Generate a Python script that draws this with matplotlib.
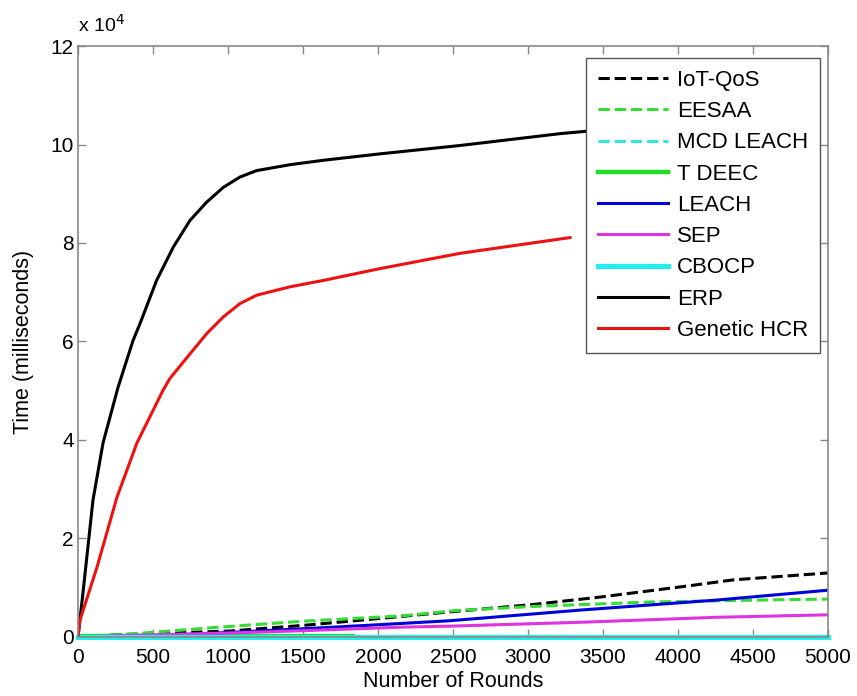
import numpy as np
import matplotlib
matplotlib.use("Agg")
import matplotlib.pyplot as plt
from matplotlib.ticker import FuncFormatter

plt.rcParams['font.family'] = ['Liberation Sans', 'DejaVu Sans']

# データ (Time in milliseconds)
x_erp = [0, 33, 100, 167, 267, 367, 413, 524, 636, 747, 858, 969, 1080, 1191,
         1413, 1636, 2013, 2547, 3213, 3500]
y_erp = [0, 8900, 27800, 39400, 50700, 60200, 63600, 72400, 79200, 84600, 88300,
         91300, 93400, 94700, 95900, 96800, 98100, 99800, 102200, 103000]

x_hcr = [0, 13, 127, 260, 393, 567, 613, 747, 858, 969, 1080, 1191, 1413, 1636,
         2013, 2547, 3280]
y_hcr = [0, 3400, 14200, 28400, 39400, 50100, 52500, 57500, 61600, 65000, 67700,
         69400, 71100, 72400, 74800, 77900, 81100]

x_iot = [0, 305, 1010, 1520, 2025, 2480, 3035, 3480, 4050, 4370, 5000]
y_iot = [0, 500, 1200, 2400, 3800, 5100, 6600, 8100, 10300, 11600, 13000]

x_eesaa = [0, 305, 945, 1500, 2165, 2530, 3035, 3810, 4550, 5000]
y_eesaa = [0, 500, 2000, 3200, 4300, 5400, 6200, 7100, 7500, 7700]

x_leach = [0, 505, 1060, 1520, 1950, 2480, 3365, 4260, 5000]
y_leach = [0, 200, 1000, 1700, 2400, 3300, 5500, 7500, 9500]

x_sep = [0, 305, 1010, 1520, 2165, 2480, 3365, 4260, 5000]
y_sep = [0, 300, 800, 1300, 2000, 2200, 3000, 4000, 4500]

x_tdeec = [0, 1830]
y_tdeec = [300, 300]

x_mcd = [0, 5000]
y_mcd = [100, 100]

x_cbocp = [0, 5000]
y_cbocp = [0, 0]

fig = plt.figure(figsize=(8.57, 6.96), dpi=100)
ax = fig.add_axes([0.0910, 0.0848, 0.8752, 0.8491])

lw = 2.2
ax.plot(x_iot, y_iot, '--', color='black', lw=lw, label='IoT-QoS')
ax.plot(x_eesaa, y_eesaa, '--', color='#33dd33', lw=lw, label='EESAA')
ax.plot(x_mcd, y_mcd, '--', color='#33e6e6', lw=lw, label='MCD LEACH', clip_on=False)
ax.plot(x_tdeec, y_tdeec, '-', color='#22dd22', lw=lw + 1, label='T DEEC')
ax.plot(x_leach, y_leach, '-', color='#0000dd', lw=lw, label='LEACH')
ax.plot(x_sep, y_sep, '-', color='#e033e0', lw=lw, label='SEP')
ax.plot(x_cbocp, y_cbocp, '-', color='#22eeee', lw=lw + 1.5, label='CBOCP', clip_on=False)
ax.plot(x_erp, y_erp, '-', color='black', lw=lw, label='ERP')
ax.plot(x_hcr, y_hcr, '-', color='#ee1111', lw=lw, label='Genetic HCR')

ax.set_xlim(0, 5000)
ax.set_ylim(0, 120000)
ax.set_xticks(np.arange(0, 5001, 500))
ax.set_yticks(np.arange(0, 120001, 20000))
ax.yaxis.set_major_formatter(FuncFormatter(lambda v, p: '%d' % round(v / 1e4)))

for s in ax.spines.values():
    s.set_color('#888888')
    s.set_linewidth(1.2)
ax.tick_params(direction='in', top=True, right=True, length=6, width=1,
               color='#888888', labelsize=15)
ax.tick_params(axis='x', pad=8)
ax.tick_params(axis='y', pad=3)

# 指数表記
ax.text(0.0, 1.018, 'x 10$^4$', transform=ax.transAxes, fontsize=14,
        ha='left', va='bottom')
ax.set_xlabel('Number of Rounds', fontsize=15.5, labelpad=3)
ax.set_ylabel('Time (milliseconds)', fontsize=15.5, labelpad=12)

leg = ax.legend(loc='upper right', bbox_to_anchor=(0.9893, 0.9797), borderaxespad=0,
                fontsize=16, handlelength=3.15, fancybox=False, framealpha=1,
                edgecolor='#555555', borderpad=0.54, labelspacing=0.46,
                handletextpad=0.4)
leg.get_frame().set_linewidth(1.0)

fig.savefig('out.png', dpi=100)
